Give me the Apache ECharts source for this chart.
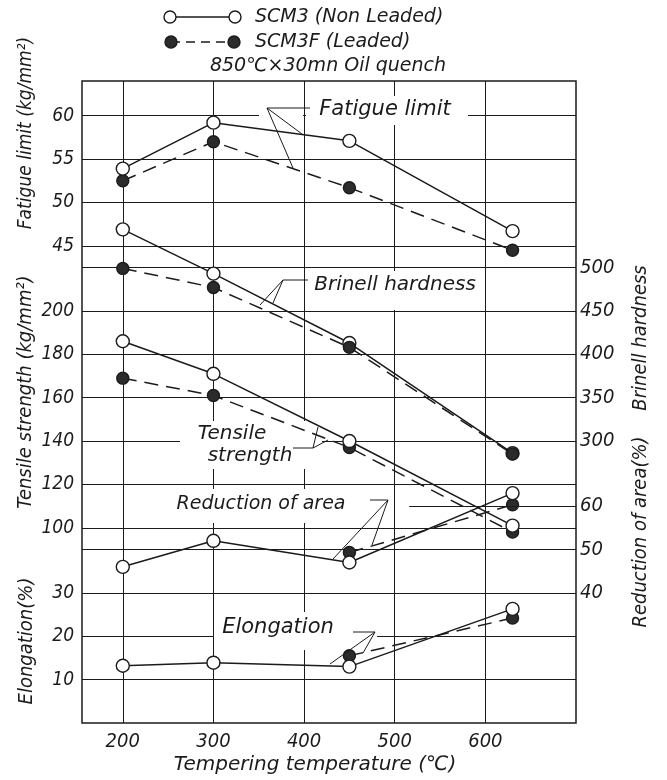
<!DOCTYPE html>
<html>
<head>
<meta charset="utf-8">
<script src="https://cdn.jsdelivr.net/npm/echarts@6/dist/echarts.min.js"></script>
<style>
  html, body { margin: 0; padding: 0; background: #fff; }
  #chart { width: 667px; height: 780px; }
</style>
</head>
<body>
<div id="chart"></div>
<script>
// tempering temperature (°C)
const temps = [200, 300, 450, 630];

// SCM3 (non leaded) -> open circles, SCM3F (leaded) -> filled circles
const fatigueOpen = [53.9, 59.2, 57.1, 46.7];
const fatigueFilled = [52.5, 57.0, 51.7, 44.5];
const hardnessOpen = [544, 493, 413, 286];
const hardnessFilled = [499, 477, 408, 285];
const tensileOpen = [186, 171, 140, 101];
const tensileFilled = [169, 161, 137, 98];
const reductionOpen = [46, 52, 47, 63];
const reductionFilled = [null, null, 49.3, 60.3];   // leaded points at 200/300 sit under the open ones
const elongationOpen = [13.2, 13.9, 13.0, 26.3];
const elongationFilled = [null, null, 15.5, 24.2];

// tick labels
const xTicks = [200, 300, 400, 500, 600];
const fatigueTicks = [45, 50, 55, 60];
const tensileTicks = [100, 120, 140, 160, 180, 200];
const elongationTicks = [10, 20, 30];
const hardnessTicks = [300, 350, 400, 450, 500];
const reductionTicks = [40, 50, 60];
// horizontal rulings, counted in grid steps from the bottom edge
// (the 60 % reduction line is only a short ruling on the right, see markLine)
const rulings = [1, 2, 3, 4, 4.5, 5.5, 6.5, 7.5, 8.5, 9.5, 10.5, 11, 12, 13, 14];

const INK = '#1b1b1b';
const HAND = '"DejaVu Sans", sans-serif';
const NARROW = '"Liberation Sans Narrow", "DejaVu Sans Condensed", "Liberation Sans", sans-serif';
const TOP = 14.8;   // plot height in grid steps

// every quantity is linear in grid steps: value = per * step + base
const range = (per, base) => ({ min: base, max: base + per * TOP });

function sideAxis(position, r, ticks, margin) {
  return {
    type: 'value',
    position,
    min: r.min,
    max: r.max,
    axisLine: { show: false },
    axisTick: { show: false, customValues: ticks },
    splitLine: { show: false },
    axisLabel: {
      customValues: ticks,
      margin,
      color: INK,
      fontFamily: NARROW,
      fontStyle: 'italic',
      fontSize: position === 'left' ? 19 : 20,
    },
  };
}

function curve(data, axis, filled, onTop) {
  return {
    type: 'line',
    yAxisIndex: axis,
    data: temps.map((t, i) => [t, data[i]]),
    symbol: 'circle',
    symbolSize: filled ? 12 : 13,
    lineStyle: { color: INK, width: 1.5, type: filled ? [14, 8] : 'solid' },
    itemStyle: { color: filled ? '#2b2b2b' : '#fff', borderColor: INK, borderWidth: 1.4 },
    z: onTop ? 4 : (filled ? 2 : 3),
    silent: true,
  };
}

const txt = (text, x, y, size, extra) => ({
  type: 'text',
  x, y,
  z: 5,
  silent: true,
  style: Object.assign({
    text, fill: INK,
    font: `italic ${size}px ${HAND}`,
    align: 'center', verticalAlign: 'middle',
  }, extra || {}),
});
const sideTitle = (text, x, y, size) => {
  const el = txt(text, x, y, size, { font: `italic ${size}px ${NARROW}` });
  el.rotation = Math.PI / 2;
  return el;
};
const mask = (x, y, w, h) => ({
  type: 'rect', z: 1, silent: true,
  shape: { x, y, width: w, height: h },
  style: { fill: '#fff' },
});
const leader = (pts) => ({
  type: 'polyline', z: 5, silent: true,
  shape: { points: pts },
  style: { stroke: INK, lineWidth: 1, fill: null },
});

const reductionSolid = curve(reductionOpen, 5, false);
reductionSolid.markLine = {
  silent: true,
  symbol: 'none',
  label: { show: false },
  lineStyle: { color: INK, width: 1, type: 'solid' },
  data: [[{ coord: [516, 60] }, { coord: [700, 60] }]],
};

const chart = echarts.init(document.getElementById('chart'));
chart.setOption({
  backgroundColor: '#fff',
  animation: false,
  grid: {
    left: 82, right: 91, top: 81, bottom: 57,
    show: true, borderColor: INK, borderWidth: 1.5, backgroundColor: 'transparent',
  },
  xAxis: {
    type: 'value',
    min: 155,
    max: 700,
    axisLine: { show: false },
    axisTick: { show: false, customValues: xTicks },
    splitLine: { show: true, lineStyle: { color: INK, width: 1 } },
    axisLabel: {
      customValues: xTicks,
      margin: 9,
      color: INK,
      fontFamily: NARROW,
      fontStyle: 'italic',
      fontSize: 20,
    },
  },
  yAxis: [
    {
      type: 'value', min: 0, max: TOP,
      axisLine: { show: false },
      axisLabel: { show: false },
      axisTick: { show: false, customValues: rulings },
      splitLine: { show: true, lineStyle: { color: INK, width: 1 } },
    },
    sideAxis('left', range(5, -10), fatigueTicks, 8),
    sideAxis('left', range(20, 10), tensileTicks, 8),
    sideAxis('left', range(10, 0), elongationTicks, 8),
    sideAxis('right', range(50, -25), hardnessTicks, 4),
    sideAxis('right', range(10, 10), reductionTicks, 4),
  ],
  series: [
    curve(fatigueFilled, 1, true),
    curve(fatigueOpen, 1, false),
    curve(tensileFilled, 2, true),
    curve(tensileOpen, 2, false),
    curve(elongationFilled, 3, true),
    curve(elongationOpen, 3, false),
    curve(hardnessOpen, 4, false),
    curve(hardnessFilled, 4, true, true),
    curve(reductionFilled, 5, true),
    reductionSolid,
  ],
  graphic: [
    // legend
    { type: 'line', z: 4, shape: { x1: 170, y1: 17, x2: 235, y2: 17 }, style: { stroke: INK, lineWidth: 1.4 } },
    { type: 'circle', z: 5, shape: { cx: 170, cy: 17, r: 6 }, style: { fill: '#fff', stroke: INK, lineWidth: 1.4 } },
    { type: 'circle', z: 5, shape: { cx: 235, cy: 17, r: 6 }, style: { fill: '#fff', stroke: INK, lineWidth: 1.4 } },
    txt('SCM3 (Non Leaded)', 255, 17, 19, { align: 'left' }),
    { type: 'line', z: 4, shape: { x1: 171, y1: 42, x2: 234, y2: 42 }, style: { stroke: INK, lineWidth: 1.4, lineDash: [9, 6] } },
    { type: 'circle', z: 5, shape: { cx: 171, cy: 42, r: 6 }, style: { fill: '#2b2b2b', stroke: INK, lineWidth: 1.4 } },
    { type: 'circle', z: 5, shape: { cx: 234, cy: 42, r: 6 }, style: { fill: '#2b2b2b', stroke: INK, lineWidth: 1.4 } },
    txt('SCM3F (Leaded)', 255, 42, 19, { align: 'left' }),
    txt('850℃×30mn Oil quench', 328, 66, 19),

    // axis titles
    sideTitle('Fatigue limit (kg/mm²)', 26, 133, 19),
    sideTitle('Tensile strength (kg/mm²)', 26, 392, 20),
    sideTitle('Elongation(%)', 27, 641, 20),
    sideTitle('Brinell hardness', 641, 338, 20),
    sideTitle('Reduction of area(%)', 641, 532, 20),
    txt('Tempering temperature (℃)', 315, 765, 20),

    // gaps in the rulings behind the labels
    mask(312, 96, 150, 29),
    mask(259, 114.5, 44, 5),
    mask(306, 114.5, 162, 5),
    mask(309, 271, 173, 39),
    mask(180, 421, 142, 48),
    mask(170, 489, 186, 34),
    mask(214, 612, 163, 38),

    // curve labels and their leaders
    txt('Fatigue limit', 385, 110, 21),
    leader([[310, 108], [267, 108], [302, 134]]),
    leader([[267, 108], [293, 168]]),
    txt('Brinell hardness', 395, 285, 20),
    leader([[308, 280], [283, 280], [260, 305]]),
    leader([[283, 280], [273, 303]]),
    txt('Tensile', 232, 434, 20),
    txt('strength', 250, 456, 20),
    leader([[293, 448], [313, 448], [318, 427]]),
    leader([[313, 448], [328, 440]]),
    txt('Reduction of area', 261, 504, 19),
    leader([[370, 500], [388, 500], [333, 559]]),
    leader([[388, 500], [372, 545]]),
    txt('Elongation', 278, 628, 21),
    leader([[353, 632], [375, 632], [330, 664]]),
    leader([[375, 632], [363, 653]]),
  ],
});
</script>
</body>
</html>
